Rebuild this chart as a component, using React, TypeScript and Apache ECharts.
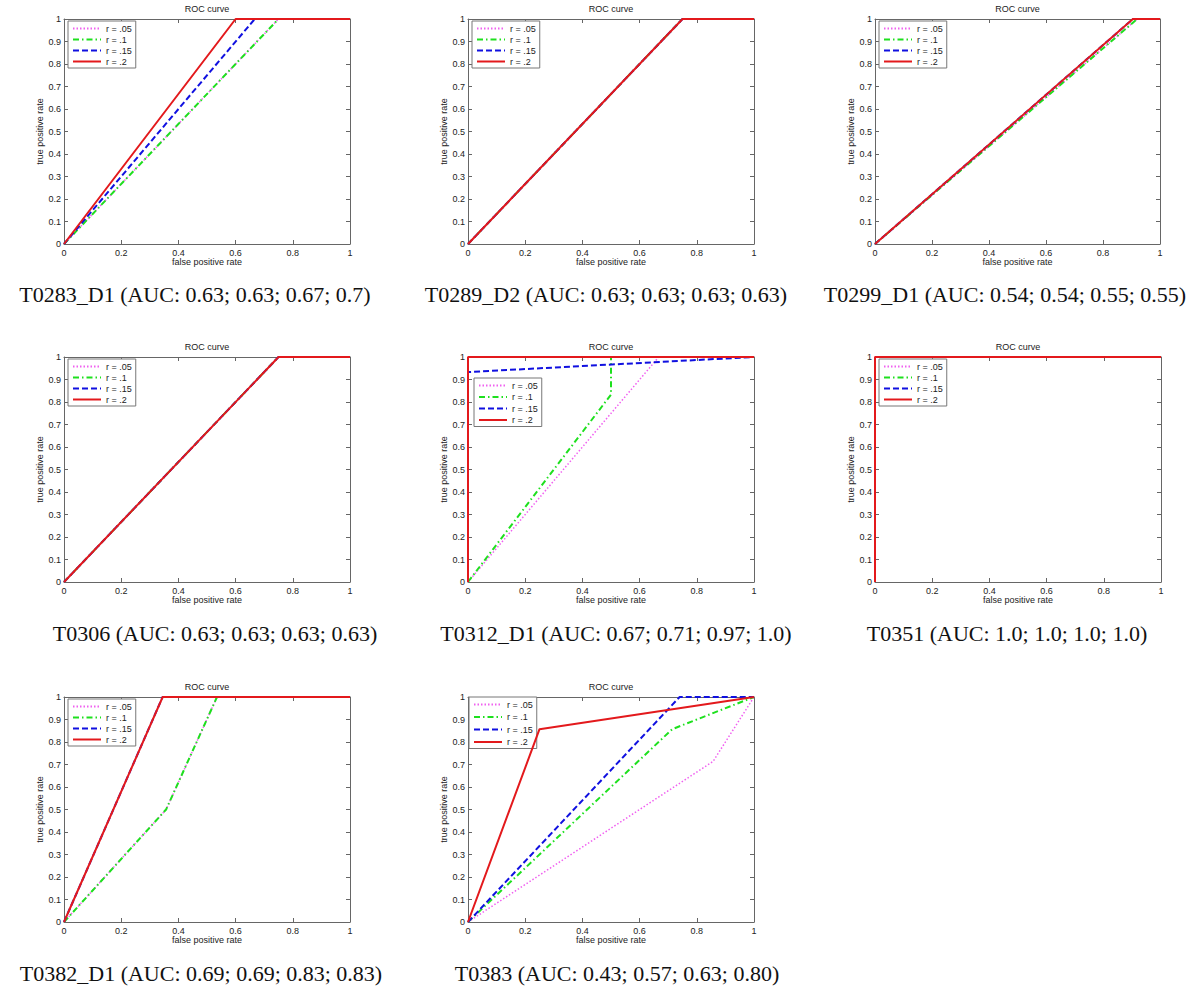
import React, { useEffect, useRef } from 'react';
import * as echarts from 'echarts';

// ---------- text ----------
const SERIES_NAMES = ['r = .05', 'r = .1', 'r = .15', 'r = .2'];
const PANEL_TITLE = 'ROC curve';
const X_NAME = 'false positive rate';
const Y_NAME = 'true positive rate';
const CAPTIONS = [
  'T0283_D1 (AUC: 0.63; 0.63; 0.67; 0.7)',
  'T0289_D2 (AUC: 0.63; 0.63; 0.63; 0.63)',
  'T0299_D1 (AUC: 0.54; 0.54; 0.55; 0.55)',
  'T0306 (AUC: 0.63; 0.63; 0.63; 0.63)',
  'T0312_D1 (AUC: 0.67; 0.71; 0.97; 1.0)',
  'T0351 (AUC: 1.0; 1.0; 1.0; 1.0)',
  'T0382_D1 (AUC: 0.69; 0.69; 0.83; 0.83)',
  'T0383 (AUC: 0.43; 0.57; 0.63; 0.80)',
];

// ---------- data: [false positive rate, true positive rate] ----------
const t0283_r05 = [[0, 0], [0.75, 1], [1, 1]];
const t0283_r10 = [[0, 0], [0.75, 1], [1, 1]];
const t0283_r15 = [[0, 0], [0.667, 1], [1, 1]];
const t0283_r20 = [[0, 0], [0.6, 1], [1, 1]];

const t0289_r05 = [[0, 0], [0.75, 1], [1, 1]];
const t0289_r10 = [[0, 0], [0.75, 1], [1, 1]];
const t0289_r15 = [[0, 0], [0.75, 1], [1, 1]];
const t0289_r20 = [[0, 0], [0.75, 1], [1, 1]];

const t0299_r05 = [[0, 0], [0.92, 1], [1, 1]];
const t0299_r10 = [[0, 0], [0.92, 1], [1, 1]];
const t0299_r15 = [[0, 0], [0.905, 1], [1, 1]];
const t0299_r20 = [[0, 0], [0.905, 1], [1, 1]];

const t0306_r05 = [[0, 0], [0.75, 1], [1, 1]];
const t0306_r10 = [[0, 0], [0.75, 1], [1, 1]];
const t0306_r15 = [[0, 0], [0.75, 1], [1, 1]];
const t0306_r20 = [[0, 0], [0.75, 1], [1, 1]];

const t0312_r05 = [[0, 0], [0.667, 1], [1, 1]];
const t0312_r10 = [[0, 0], [0.5, 0.833], [0.5, 1], [1, 1]];
const t0312_r15 = [[0, 0], [0, 0.933], [1, 1]];
const t0312_r20 = [[0, 0], [0, 1], [1, 1]];

const t0351_r05 = [[0, 0], [0, 1], [1, 1]];
const t0351_r10 = [[0, 0], [0, 1], [1, 1]];
const t0351_r15 = [[0, 0], [0, 1], [1, 1]];
const t0351_r20 = [[0, 0], [0, 1], [1, 1]];

const t0382_r05 = [[0, 0], [0.357, 0.5], [0.535, 1], [1, 1]];
const t0382_r10 = [[0, 0], [0.357, 0.5], [0.535, 1], [1, 1]];
const t0382_r15 = [[0, 0], [0.345, 1], [1, 1]];
const t0382_r20 = [[0, 0], [0.345, 1], [1, 1]];

const t0383_r05 = [[0, 0], [0.857, 0.714], [1, 1]];
const t0383_r10 = [[0, 0], [0.714, 0.857], [1, 1]];
const t0383_r15 = [[0, 0], [0.74, 1], [1, 1]];
const t0383_r20 = [[0, 0], [0.25, 0.857], [1, 1]];

const PANEL_DATA = [
  [t0283_r05, t0283_r10, t0283_r15, t0283_r20],
  [t0289_r05, t0289_r10, t0289_r15, t0289_r20],
  [t0299_r05, t0299_r10, t0299_r15, t0299_r20],
  [t0306_r05, t0306_r10, t0306_r15, t0306_r20],
  [t0312_r05, t0312_r10, t0312_r15, t0312_r20],
  [t0351_r05, t0351_r10, t0351_r15, t0351_r20],
  [t0382_r05, t0382_r10, t0382_r15, t0382_r20],
  [t0383_r05, t0383_r10, t0383_r15, t0383_r20],
];

// ---------- layout ----------
const LAYOUT = [
  { left: 64, top: 19, width: 286, height: 225, lg: [68, 21], lgGap: 2, cap: [195, 294] },
  { left: 468, top: 19, width: 286, height: 225, lg: [472, 21], lgGap: 2, cap: [606, 294] },
  { left: 875, top: 19, width: 285, height: 225, lg: [879, 21], lgGap: 2, cap: [1005, 294] },
  { left: 64, top: 357, width: 286, height: 225, lg: [68, 359], lgGap: 2, cap: [215, 633] },
  { left: 468, top: 357, width: 286, height: 225, lg: [474, 378], lgGap: 2.5, cap: [616, 633] },
  { left: 875, top: 357, width: 286, height: 225, lg: [879, 359], lgGap: 2, cap: [1007, 633] },
  { left: 64, top: 697, width: 286, height: 225, lg: [68, 699], lgGap: 2, cap: [201, 973] },
  { left: 468, top: 697, width: 286, height: 225, lg: [469, 697], lgGap: 3.5, cap: [617, 973] },
];

const STYLES = [
  { color: '#f060f0', width: 1.5, type: [1.5, 2] },
  { color: '#1ee01e', width: 2, type: [6, 3, 1.5, 3] },
  { color: '#1010e0', width: 2, type: [6, 3] },
  { color: '#e3191c', width: 2, type: 'solid' },
];

const AX = '#666';
const TXT = '#222';
const SANS = 'Liberation Sans';
const SERIF = 'Liberation Serif';

function buildOption() {
  const titles: any[] = [];
  const legends: any[] = [];
  const grids: any[] = [];
  const xAxes: any[] = [];
  const yAxes: any[] = [];
  const series: any[] = [];

  LAYOUT.forEach((p, i) => {
    grids.push({ left: p.left, top: p.top, width: p.width, height: p.height, containLabel: false });
    titles.push({
      text: PANEL_TITLE,
      left: p.left + p.width / 2,
      top: p.top - 10,
      textAlign: 'center',
      textVerticalAlign: 'middle',
      padding: 0,
      textStyle: { fontSize: 9, fontWeight: 'normal', fontFamily: SANS, color: TXT },
    });
    titles.push({
      text: CAPTIONS[i],
      left: p.cap[0],
      top: p.cap[1],
      textAlign: 'center',
      textVerticalAlign: 'middle',
      padding: 0,
      textStyle: { fontSize: 22, fontWeight: 'normal', fontFamily: SERIF, color: '#111' },
    });
    legends.push({
      data: SERIES_NAMES,
      orient: 'vertical',
      left: p.lg[0],
      top: p.lg[1],
      itemWidth: 28,
      itemHeight: 9,
      itemGap: p.lgGap,
      padding: [3, 4, 2, 4],
      borderColor: '#777',
      borderWidth: 1,
      borderRadius: 0,
      backgroundColor: '#fff',
      selectedMode: false,
      itemStyle: { opacity: 0 },
      textStyle: { fontSize: 9, fontFamily: SANS, color: TXT },
    });
    const baseAxis = {
      type: 'value',
      gridIndex: i,
      min: 0,
      max: 1,
      axisLine: { show: true, onZero: false, lineStyle: { color: AX, width: 1 } },
      axisTick: { show: true, inside: true, length: 4, lineStyle: { color: AX } },
      splitLine: { show: false },
    };
    xAxes.push({
      ...baseAxis,
      position: 'bottom',
      interval: 0.2,
      name: X_NAME,
      nameLocation: 'middle',
      nameGap: 13,
      nameTextStyle: { fontSize: 9, color: TXT, fontFamily: SANS },
      axisLabel: { fontSize: 9, color: TXT, margin: 4, fontFamily: SANS },
    });
    xAxes.push({ ...baseAxis, position: 'top', interval: 0.2, axisLabel: { show: false } });
    yAxes.push({
      ...baseAxis,
      position: 'left',
      interval: 0.1,
      name: Y_NAME,
      nameLocation: 'middle',
      nameGap: 17,
      nameTextStyle: { fontSize: 9, color: TXT, fontFamily: SANS },
      axisLabel: { fontSize: 9, color: TXT, margin: 3, fontFamily: SANS },
    });
    yAxes.push({ ...baseAxis, position: 'right', interval: 0.1, axisLabel: { show: false } });

    PANEL_DATA[i].forEach((d, k) => {
      const s = STYLES[k];
      series.push({
        type: 'line',
        name: SERIES_NAMES[k],
        xAxisIndex: 2 * i,
        yAxisIndex: 2 * i,
        data: d,
        symbol: 'none',
        showSymbol: false,
        clip: false,
        z: 2 + k,
        lineStyle: { color: s.color, width: s.width, type: s.type },
        itemStyle: { color: s.color },
      });
    });
  });

  return {
    animation: false,
    backgroundColor: '#fff',
    textStyle: { fontFamily: SANS },
    title: titles,
    legend: legends,
    grid: grids,
    xAxis: xAxes,
    yAxis: yAxes,
    series,
  };
}

export default function App() {
  const ref = useRef<HTMLDivElement>(null);
  useEffect(() => {
    if (!ref.current) return;
    const chart = echarts.init(ref.current, undefined, { renderer: 'svg' });
    chart.setOption(buildOption());
    return () => chart.dispose();
  }, []);
  return (
    <div
      ref={ref}
      style={{ position: 'absolute', left: 0, top: 0, width: 1200, height: 996, background: '#fff' }}
    />
  );
}
